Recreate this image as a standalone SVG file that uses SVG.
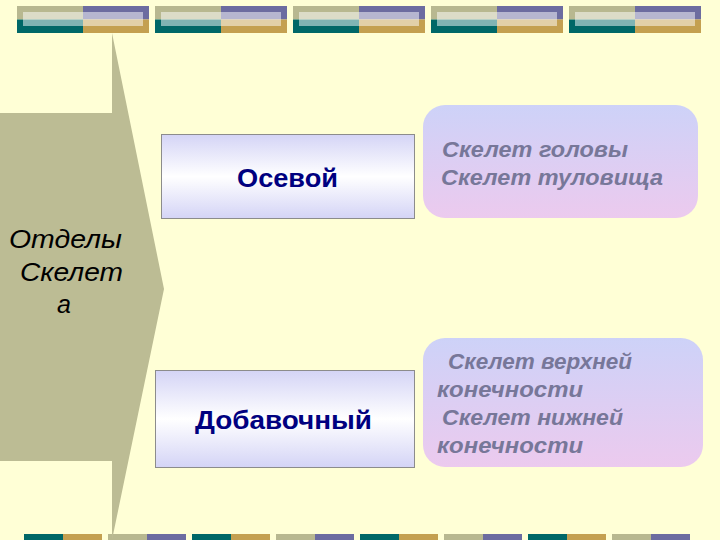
<svg xmlns="http://www.w3.org/2000/svg" width="720" height="540" viewBox="0 0 720 540">
<defs>
<linearGradient id="gBox" x1="0" y1="0" x2="0" y2="1">
<stop offset="0" stop-color="#d4d4f6"/>
<stop offset="0.5" stop-color="#ffffff"/>
<stop offset="1" stop-color="#d4d4f6"/>
</linearGradient>
<linearGradient id="gRound" x1="0" y1="0" x2="0" y2="1">
<stop offset="0" stop-color="#cdd2f8"/>
<stop offset="1" stop-color="#eccaee"/>
</linearGradient>
<g id="topBar">
<rect x="0" y="6" width="66" height="13.5" fill="#b8b890"/>
<rect x="66" y="6" width="66" height="13.5" fill="#6c6ca0"/>
<rect x="0" y="19.5" width="66" height="13.5" fill="#006868"/>
<rect x="66" y="19.5" width="66" height="13.5" fill="#c4a050"/>
<rect x="6" y="12" width="120" height="14" fill="#ffffff" fill-opacity="0.5"/>
</g>
<g id="botPair1">
<rect x="0" y="534" width="39" height="6" fill="#006868"/>
<rect x="39" y="534" width="39" height="6" fill="#c4a050"/>
</g>
<g id="botPair2">
<rect x="0" y="534" width="39" height="6" fill="#b8b890"/>
<rect x="39" y="534" width="39" height="6" fill="#6c6ca0"/>
</g>
</defs>
<style>
.lbl{font-family:"Liberation Sans",Arial,sans-serif;font-weight:bold;font-size:25px;fill:#000080}
.side{font-family:"Liberation Sans",Arial,sans-serif;font-style:italic;font-size:25px;fill:#000000}
.det{font-family:"Liberation Sans",Arial,sans-serif;font-style:italic;font-weight:bold;font-size:22px;fill:#777799}
.box{fill:url(#gBox);stroke:#8c8c8c;stroke-width:1}
.rbox{fill:url(#gRound)}
</style>
<rect x="0" y="0" width="720" height="540" fill="#ffffd6"/>
<g id="decor">
<use href="#topBar" x="17"/>
<use href="#topBar" x="155"/>
<use href="#topBar" x="293"/>
<use href="#topBar" x="431"/>
<use href="#topBar" x="569"/>
<use href="#botPair1" x="24"/>
<use href="#botPair2" x="108"/>
<use href="#botPair1" x="192"/>
<use href="#botPair2" x="276"/>
<use href="#botPair1" x="360"/>
<use href="#botPair2" x="444"/>
<use href="#botPair1" x="528"/>
<use href="#botPair2" x="612"/>
</g>
<g id="connectors"></g>
<g id="node-root">
<polygon points="0,113 112,113 112,33 164,289 112,540 112,461 0,461" fill="#bcbc94"/>
<text class="side" x="9" y="248" textLength="113" lengthAdjust="spacingAndGlyphs">Отделы</text>
<text class="side" x="20" y="281" textLength="103" lengthAdjust="spacingAndGlyphs">Скелет</text>
<text class="side" x="57" y="313">а</text>
</g>
<g id="node-axial">
<rect class="box" x="161.5" y="134.5" width="253" height="84"/>
<text class="lbl" x="237" y="187" textLength="101" lengthAdjust="spacingAndGlyphs">Осевой</text>
</g>
<g id="node-accessory">
<rect class="box" x="155.5" y="370.5" width="259" height="97"/>
<text class="lbl" x="195" y="429" textLength="177" lengthAdjust="spacingAndGlyphs">Добавочный</text>
</g>
<g id="node-axial-detail">
<rect class="rbox" x="423" y="105" width="275" height="113" rx="22"/>
<text class="det" x="442" y="157" textLength="186" lengthAdjust="spacingAndGlyphs">Скелет головы</text>
<text class="det" x="441" y="185" textLength="222" lengthAdjust="spacingAndGlyphs">Скелет туловища</text>
</g>
<g id="node-accessory-detail">
<rect class="rbox" x="423" y="338" width="280" height="129" rx="22"/>
<text class="det" x="448" y="369" textLength="184" lengthAdjust="spacingAndGlyphs">Скелет верхней</text>
<text class="det" x="437" y="397" textLength="146" lengthAdjust="spacingAndGlyphs">конечности</text>
<text class="det" x="442" y="425" textLength="181" lengthAdjust="spacingAndGlyphs">Скелет нижней</text>
<text class="det" x="437" y="453" textLength="146" lengthAdjust="spacingAndGlyphs">конечности</text>
</g>
</svg>
